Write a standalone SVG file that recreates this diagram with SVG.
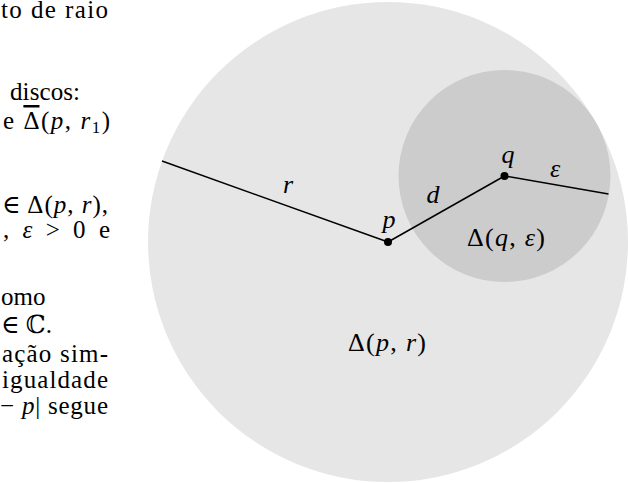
<svg xmlns="http://www.w3.org/2000/svg" width="628" height="483" viewBox="0 0 628 483">
<style>
  .t{font-family:"Liberation Serif","DejaVu Serif","Times New Roman",serif;font-size:25px;fill:#000}
  .i{font-style:italic}
  .lab{font-family:"Liberation Serif","DejaVu Serif","Times New Roman",serif;font-size:26px;fill:#000;text-anchor:middle}
  .conn{stroke:#000;stroke-width:1.5;fill:none;stroke-linejoin:round;stroke-linecap:butt}
  .dot{fill:#000}
</style>
<rect width="628" height="483" fill="#fff"/>
<g id="text-column" class="t">
  <text x="1" y="18" textLength="107" lengthAdjust="spacing">to de raio</text>
  <text x="10" y="100" textLength="70" lengthAdjust="spacing">discos:</text>
  <text x="3" y="129" textLength="107" lengthAdjust="spacing">e <tspan text-decoration="overline">Δ</tspan>(<tspan class="i">p</tspan>, <tspan class="i">r</tspan><tspan font-size="17" dy="4">1</tspan><tspan dy="-4">)</tspan></text>
  <text x="2" y="213" textLength="106" lengthAdjust="spacing">∈ Δ(<tspan class="i">p</tspan>, <tspan class="i">r</tspan>),</text>
  <text x="3" y="238" textLength="107" lengthAdjust="spacing">, <tspan class="i">ε</tspan> &gt; 0 e</text>
  <text x="1" y="305">omo</text>
  <text x="1" y="333">∈ ℂ.</text>
  <text x="2" y="362" textLength="106" lengthAdjust="spacing">ação sim-</text>
  <text x="2" y="388" textLength="106" lengthAdjust="spacing">igualdade</text>
  <text x="0" y="414" textLength="108" lengthAdjust="spacing">− <tspan class="i">p</tspan>| segue</text>
</g>
<g id="disc-p-r">
  <circle cx="388" cy="242" r="240" fill="#e6e6e6"/>
</g>
<g id="disc-q-eps">
  <circle cx="504.5" cy="176" r="106" fill="#cccccc"/>
</g>
<g id="connectors">
  <polyline class="conn" points="162,161 388,242 504.5,176 608.5,194"/>
</g>
<g id="point-p">
  <circle class="dot" cx="388" cy="242" r="4"/>
  <text class="lab i" x="389" y="228">p</text>
</g>
<g id="point-q">
  <circle class="dot" cx="504.5" cy="176" r="4"/>
  <text class="lab i" x="508" y="163">q</text>
</g>
<g id="labels" class="lab">
  <text class="lab i" x="288" y="193">r</text>
  <text class="lab i" x="433" y="203">d</text>
  <text class="lab i" x="555" y="177">ε</text>
  <text class="lab" x="467" y="246" text-anchor="start" style="text-anchor:start" textLength="78" lengthAdjust="spacing">Δ(<tspan class="i">q</tspan>, <tspan class="i">ε</tspan>)</text>
  <text class="lab" x="348" y="351" style="text-anchor:start" textLength="78" lengthAdjust="spacing">Δ(<tspan class="i">p</tspan>, <tspan class="i">r</tspan>)</text>
</g>
</svg>
